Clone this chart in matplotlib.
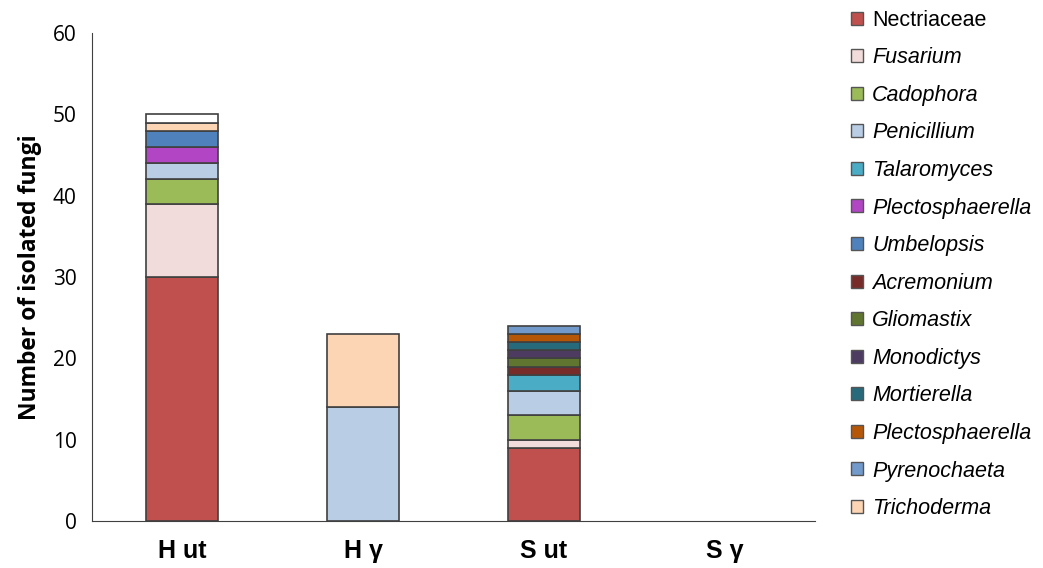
import matplotlib.pyplot as plt
from matplotlib.patches import Patch
import numpy as np

categories = ['H ut', 'H \u03b3', 'S ut', 'S \u03b3']

# taxa, bottom to top in each bar
taxa = ['Nectriaceae', 'Fusarium', 'Cadophora', 'Penicillium', 'Talaromyces',
        'Plectosphaerella', 'Umbelopsis', 'Acremonium', 'Gliomastix',
        'Monodictys', 'Mortierella', 'Plectosphaerella', 'Pyrenochaeta',
        'Trichoderma', '']
italic = [False] + [True] * 13 + [False]

nectriaceae = [30, 0, 9, 0]
fusarium = [9, 0, 1, 0]
cadophora = [3, 0, 3, 0]
penicillium = [2, 14, 3, 0]
talaromyces = [0, 0, 2, 0]
plectosphaerella = [2, 0, 0, 0]
umbelopsis = [2, 0, 0, 0]
acremonium = [0, 0, 1, 0]
gliomastix = [0, 0, 1, 0]
monodictys = [0, 0, 1, 0]
mortierella = [0, 0, 1, 0]
plectosphaerella2 = [0, 0, 1, 0]
pyrenochaeta = [0, 0, 1, 0]
trichoderma = [1, 9, 0, 0]
unnamed = [1, 0, 0, 0]

series = [nectriaceae, fusarium, cadophora, penicillium, talaromyces,
          plectosphaerella, umbelopsis, acremonium, gliomastix, monodictys,
          mortierella, plectosphaerella2, pyrenochaeta, trichoderma, unnamed]

colors = ['#C0504D', '#F2DCDB', '#9BBB59', '#B9CDE5', '#4BACC6',
          '#B245C4', '#4F81BD', '#772C2A', '#5F7530', '#4D3B62',
          '#276A7C', '#B65708', '#729ACA', '#FCD5B5', '#FFFFFF']

fig = plt.figure(figsize=(10.43, 5.68), dpi=100)
ax = fig.add_axes([0.0882, 0.0827, 0.693, 0.859])

x = np.arange(len(categories))
bottom = np.zeros(len(categories))
for vals, c in zip(series, colors):
    vals = np.array(vals, dtype=float)
    m = vals > 0
    ax.bar(x[m], vals[m], 0.4, bottom=bottom[m], color=c,
           edgecolor='#404040', linewidth=1.2)
    bottom += vals

ax.set_xlim(-0.5, 3.5)
ax.set_ylim(0, 60)
ax.set_yticks(range(0, 61, 10))
ax.set_xticks(x)
ax.set_xticklabels(categories, fontsize=18, fontweight='bold',
                   family='Liberation Sans')
for lab in ax.get_yticklabels():
    lab.set_fontsize(15)
    lab.set_family('Open Sans')
ax.tick_params(length=0)
ax.tick_params(axis='y', pad=11)
ax.tick_params(axis='x', pad=13)
ax.spines['top'].set_visible(False)
ax.spines['right'].set_visible(False)
ax.spines['left'].set_color('#404040')
ax.spines['bottom'].set_color('#404040')
ax.set_ylabel('Number of isolated fungi', fontsize=16.5, fontweight='bold',
              family='Open Sans', labelpad=8)

handles = [Patch(facecolor=c, edgecolor='#555555', linewidth=1)
           for c in colors[:14]]
leg = fig.legend(handles, taxa[:14], loc='upper left',
                 bbox_to_anchor=(0.816, 0.983), frameon=False,
                 prop={'family': 'Liberation Sans', 'size': 15.5},
                 handlelength=0.55, handleheight=0.55, handletextpad=0.42,
                 labelspacing=0.77, borderpad=0, borderaxespad=0)
for t, it in zip(leg.get_texts(), italic):
    if it:
        t.set_fontstyle('italic')

plt.savefig('out.png')
